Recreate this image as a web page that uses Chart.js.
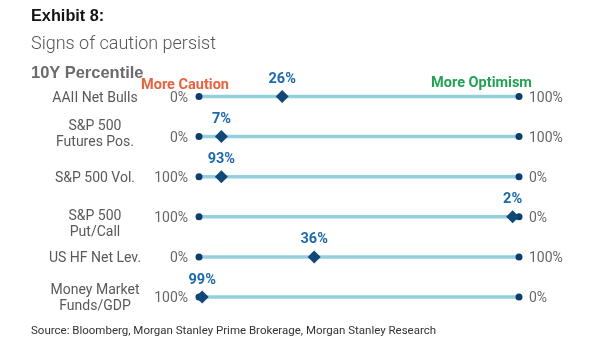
<!DOCTYPE html>
<html>
<head>
<meta charset="utf-8">
<script src="https://cdn.jsdelivr.net/npm/chart.js@4/dist/chart.umd.min.js"></script>
<style>
  html, body { margin: 0; padding: 0; background: #fff; }
  #wrap { position: relative; width: 605px; height: 341px; overflow: hidden; }
  #chart { position: absolute; left: 0; top: 0; }
  .txt { position: absolute; left: 31px; line-height: 1; white-space: nowrap; }
  #exhibit { top: 5.5px; font: bold 16.3px "Liberation Sans", Arial, sans-serif; color: #141414; }
  #headline { top: 31.5px; font: 300 18px Roboto, "Liberation Sans", sans-serif; color: #555; }
  #subhead { top: 62.5px; font: bold 16.5px "Liberation Sans", Arial, sans-serif; color: #6b6b6b; }
  #source { top: 323px; font: 11.5px Roboto, "Liberation Sans", sans-serif; color: #333; }
</style>
</head>
<body>
<div id="wrap">
  <canvas id="chart" width="605" height="341"></canvas>
  <div class="txt" id="exhibit">Exhibit 8:</div>
  <div class="txt" id="headline">Signs of caution persist</div>
  <div class="txt" id="subhead">10Y Percentile</div>
  <div class="txt" id="source">Source: Bloomberg, Morgan Stanley Prime Brokerage, Morgan Stanley Research</div>
</div>
<script>
// Indicators, one row each (multi-line names are split into lines)
const rowNames = [
  ['AAII Net Bulls'],
  ['S&P 500', 'Futures Pos.'],
  ['S&P 500 Vol.'],
  ['S&P 500', 'Put/Call'],
  ['US HF Net Lev.'],
  ['Money Market', 'Funds/GDP']
];
// Current 10-year percentile of each indicator
const percentiles = [26, 7, 93, 2, 36, 99];
// End-of-track labels (left = "More Caution" side, right = "More Optimism" side)
const leftEndLabels = ['0%', '0%', '100%', '100%', '0%', '100%'];
const rightEndLabels = ['100%', '100%', '0%', '0%', '100%', '0%'];
// Rows whose percentile runs from 100% (left) down to 0% (right)
const invertedScale = [false, false, true, true, false, true];
const sideLabels = { left: 'More Caution', right: 'More Optimism' };

const TRACK = '#93cfdd';
const DOT = '#0d3d6b';
const DIAMOND = '#114878';
const VALUE_BLUE = '#1b6aad';
const FONT = 'Roboto, "Liberation Sans", sans-serif';

// Position along the caution -> optimism track
const trackPos = percentiles.map((v, i) => invertedScale[i] ? 100 - v : v);

const datasets = [];
// Diamond markers first so they are painted on top
datasets.push({
  label: 'percentile',
  data: trackPos.map((x, i) => ({ x: x, y: i })),
  pointStyle: 'rectRot',
  pointRadius: 6.5,
  pointHoverRadius: 6.5,
  pointBackgroundColor: DIAMOND,
  pointBorderColor: DIAMOND,
  pointBorderWidth: 0,
  showLine: false,
  clip: false
});
rowNames.forEach((_, i) => {
  datasets.push({
    label: 'track' + i,
    data: [{ x: 0, y: i }, { x: 100, y: i }],
    showLine: true,
    borderColor: TRACK,
    borderWidth: 3.5,
    pointRadius: 3.5,
    pointHoverRadius: 3.5,
    pointBackgroundColor: DOT,
    pointBorderWidth: 0,
    clip: false
  });
});

const labelPlugin = {
  id: 'rowLabels',
  afterDatasetsDraw(chart) {
    const ctx = chart.ctx;
    const xs = chart.scales.x, ys = chart.scales.y;
    const area = chart.chartArea;
    const nameOffsets = [0, -3.5, 0, 6, 0, 0];
    ctx.save();
    rowNames.forEach((lines, i) => {
      const y = ys.getPixelForValue(i);
      // indicator name
      ctx.font = '14px ' + FONT;
      ctx.fillStyle = '#595959';
      ctx.textAlign = 'center';
      ctx.textBaseline = 'alphabetic';
      const lh = 16.5;
      const first = y + 5 - (lines.length - 1) * lh / 2 + nameOffsets[i];
      lines.forEach((ln, k) => ctx.fillText(ln, 95, first + k * lh));
      // end labels
      ctx.fillStyle = '#666';
      ctx.textAlign = 'right';
      ctx.fillText(leftEndLabels[i], area.left - 11, y + 5);
      ctx.textAlign = 'left';
      ctx.fillText(rightEndLabels[i], area.right + 10, y + 5);
      // value label above the marker
      ctx.font = 'bold 14.5px ' + FONT;
      ctx.fillStyle = VALUE_BLUE;
      ctx.textAlign = 'center';
      ctx.fillText(percentiles[i] + '%', xs.getPixelForValue(trackPos[i]), y - 13.5);
    });
    const top = ys.getPixelForValue(0);
    ctx.font = 'bold 14.5px ' + FONT;
    ctx.textAlign = 'center';
    ctx.fillStyle = '#e8623e';
    ctx.fillText(sideLabels.left, area.left - 14, top - 7.5);
    ctx.fillStyle = '#23a155';
    ctx.fillText(sideLabels.right, area.right - 37.5, top - 9.5);
    ctx.restore();
  }
};

new Chart(document.getElementById('chart'), {
  type: 'scatter',
  data: { datasets: datasets },
  options: {
    responsive: false,
    animation: false,
    devicePixelRatio: 1,
    layout: { padding: { left: 199, right: 86, top: 96.5, bottom: 44 } },
    scales: {
      x: { type: 'linear', min: 0, max: 100, display: false },
      y: { type: 'linear', min: 0, max: 5, reverse: true, display: false }
    },
    plugins: {
      legend: { display: false },
      tooltip: { enabled: false }
    }
  },
  plugins: [labelPlugin]
});
</script>
</body>
</html>
